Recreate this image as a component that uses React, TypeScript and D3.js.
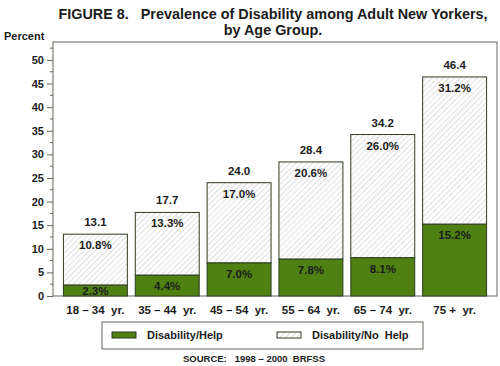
import * as d3 from 'd3';
import React, { useRef, useEffect } from 'react';

const ageGroups = ['18 – 34  yr.', '35 – 44  yr.', '45 – 54  yr.', '55 – 64  yr.', '65 – 74  yr.', '75 +  yr.'];
const helpValues = [2.3, 4.4, 7.0, 7.8, 8.1, 15.2];
const noHelpValues = [10.8, 13.3, 17.0, 20.6, 26.0, 31.2];
const totalValues = [13.1, 17.7, 24.0, 28.4, 34.2, 46.4];
const yTicks = [0, 5, 10, 15, 20, 25, 30, 35, 40, 45, 50];

const GREEN = '#4e8012';
const EDGE = '#2f3d22';
const FRAME = '#5f6b58';
const INK = '#1c1c1c';
const FONT = 'Liberation Sans, Arial, Helvetica, sans-serif';

const App = () => {
    const svgRef = useRef<SVGSVGElement>(null);

    useEffect(() => {
        draw();
    }, []);

    const draw = () => {
        const svg = d3.select(svgRef.current);
        svg.selectAll('*').remove();

        const left = 53, right = 497, top = 42, bottom = 296;

        const x = d3.scaleBand()
            .domain(ageGroups)
            .range([left, right])
            .paddingInner(0.11)
            .paddingOuter(0.145);

        const y = d3.scaleLinear()
            .domain([0, 53.8])
            .range([bottom, top]);

        const defs = svg.append('defs');
        const pat = defs.append('pattern')
            .attr('id', 'hatch')
            .attr('patternUnits', 'userSpaceOnUse')
            .attr('width', 4)
            .attr('height', 4)
            .attr('patternTransform', 'rotate(45)');
        pat.append('rect').attr('width', 4).attr('height', 4).attr('fill', '#fff');
        pat.append('line')
            .attr('x1', 0).attr('y1', 0).attr('x2', 0).attr('y2', 4)
            .attr('stroke', '#c4c4c4').attr('stroke-width', 1.1);

        // title
        const title = svg.append('text')
            .attr('text-anchor', 'middle')
            .attr('font-family', FONT)
            .attr('font-weight', 'bold')
            .attr('font-size', 14.4)
            .attr('fill', INK)
            .style('white-space', 'pre');
        title.append('tspan').attr('x', 273).attr('y', 19).text('FIGURE 8.   Prevalence of Disability among Adult New Yorkers,');
        title.append('tspan').attr('x', 273).attr('y', 35).text('by Age Group.');

        svg.append('text')
            .attr('x', 4).attr('y', 40)
            .attr('font-family', FONT).attr('font-weight', 'bold').attr('font-size', 11)
            .attr('fill', INK)
            .text('Percent');

        // frame
        svg.append('rect')
            .attr('x', left).attr('y', top)
            .attr('width', right - left).attr('height', bottom - top)
            .attr('fill', 'none').attr('stroke', FRAME).attr('stroke-width', 1);

        // y axis
        const yAxis = d3.axisLeft(y).tickValues(yTicks).tickSize(6).tickPadding(3);
        const gy = svg.append('g').attr('transform', `translate(${left},0)`).call(yAxis);
        gy.select('.domain').remove();
        gy.selectAll('line').attr('stroke', FRAME);
        gy.selectAll('text')
            .attr('font-family', FONT).attr('font-weight', 'bold').attr('font-size', 11).attr('fill', INK);

        const minor = d3.range(2.5, 53, 5);
        svg.append('g').selectAll('line').data(minor).enter().append('line')
            .attr('x1', left - 3).attr('x2', left)
            .attr('y1', (d) => y(d)).attr('y2', (d) => y(d))
            .attr('stroke', FRAME);

        const bars = svg.append('g');
        ageGroups.forEach((g, i) => {
            const bx = x(g) as number;
            const bw = x.bandwidth();
            const cx = bx + bw / 2;
            const hTop = y(helpValues[i]);
            const tTop = y(totalValues[i]);

            bars.append('rect')
                .attr('x', bx).attr('y', tTop)
                .attr('width', bw).attr('height', hTop - tTop)
                .attr('fill', 'url(#hatch)').attr('stroke', EDGE).attr('stroke-width', 1);
            bars.append('rect')
                .attr('x', bx).attr('y', hTop)
                .attr('width', bw).attr('height', y(0) - hTop)
                .attr('fill', GREEN).attr('stroke', EDGE).attr('stroke-width', 1);

            const lbl = (ty: number, t: string) => bars.append('text')
                .attr('x', cx).attr('y', ty)
                .attr('text-anchor', 'middle')
                .attr('dominant-baseline', 'central')
                .attr('font-family', FONT).attr('font-weight', 'bold').attr('font-size', 11.5)
                .attr('fill', INK)
                .text(t);

            lbl(tTop - 12, totalValues[i].toFixed(1));
            lbl(tTop + 11, noHelpValues[i].toFixed(1) + '%');
            lbl(Math.min(hTop + 11, y(0) - 5), helpValues[i].toFixed(1) + '%');

            svg.append('text')
                .attr('x', cx).attr('y', 314)
                .attr('text-anchor', 'middle')
                .attr('font-family', FONT).attr('font-weight', 'bold').attr('font-size', 11.5)
                .attr('fill', INK)
                .style('white-space', 'pre')
                .text(g);
        });

        // legend
        const lg = svg.append('g');
        lg.append('rect')
            .attr('x', 102).attr('y', 322).attr('width', 321).attr('height', 27)
            .attr('fill', '#fff').attr('stroke', FRAME);
        lg.append('rect')
            .attr('x', 112).attr('y', 332).attr('width', 24).attr('height', 6)
            .attr('fill', GREEN).attr('stroke', EDGE);
        lg.append('text')
            .attr('x', 147).attr('y', 339)
            .attr('font-family', FONT).attr('font-weight', 'bold').attr('font-size', 11).attr('fill', INK)
            .text('Disability/Help');
        lg.append('rect')
            .attr('x', 277).attr('y', 332).attr('width', 24).attr('height', 6)
            .attr('fill', 'url(#hatch)').attr('stroke', EDGE);
        lg.append('text')
            .attr('x', 312).attr('y', 339)
            .attr('font-family', FONT).attr('font-weight', 'bold').attr('font-size', 11).attr('fill', INK)
            .style('white-space', 'pre')
            .text('Disability/No  Help');

        svg.append('text')
            .attr('x', 254).attr('y', 362)
            .attr('text-anchor', 'middle')
            .attr('font-family', FONT).attr('font-weight', 'bold').attr('font-size', 9.5).attr('fill', INK)
            .style('white-space', 'pre')
            .text('SOURCE:   1998 – 2000  BRFSS');
    };

    return (
        <svg ref={svgRef} width={500} height={366} style={{ position: 'absolute', left: 0, top: 0, background: '#fff' }}>
        </svg>
    );
};

export default App;
